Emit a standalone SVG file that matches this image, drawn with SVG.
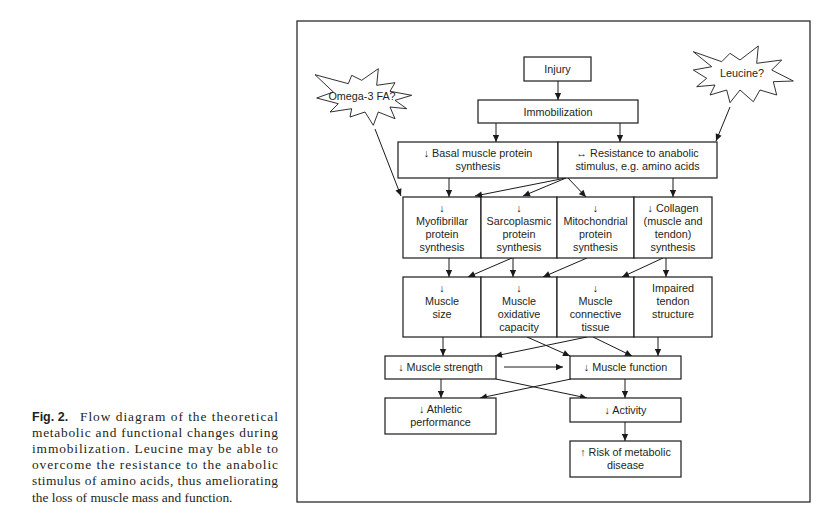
<svg xmlns="http://www.w3.org/2000/svg" width="839" height="529" viewBox="0 0 839 529">
<defs>
<marker id="ah" viewBox="0 0 10 10" refX="10" refY="5" markerWidth="8" markerHeight="7" orient="auto" markerUnits="userSpaceOnUse"><path d="M0,0.5 L10,5 L0,9.5 z" fill="#1a1a1a"/></marker>
<style>
.box{fill:#fff;stroke:#1a1a1a;stroke-width:1.2}
.star{fill:#fff;stroke:#1a1a1a;stroke-width:0.9}
.t{font-family:"Liberation Sans",Arial,sans-serif;font-size:10.8px;fill:#231f20;text-anchor:middle}
.c{stroke:#1a1a1a;stroke-width:1;fill:none;marker-end:url(#ah)}
.cap{font-family:"Liberation Serif","Times New Roman",serif;font-size:13.4px;fill:#231f20}
.capb{font-family:"Liberation Sans",Arial,sans-serif;font-weight:bold;font-size:12.5px;fill:#231f20}
</style>
</defs>
<rect width="839" height="529" fill="#fff"/>
<rect x="297" y="21" width="513" height="481" fill="none" stroke="#1a1a1a" stroke-width="1.2"/>

<g id="connectors">
<line class="c" x1="558" y1="81" x2="558" y2="100"/>
<line class="c" x1="496" y1="123" x2="496" y2="142"/>
<line class="c" x1="620" y1="123" x2="620" y2="142"/>
<line class="c" x1="375" y1="129" x2="401" y2="196"/>
<line class="c" x1="730" y1="107" x2="716" y2="141"/>
<line class="c" x1="449" y1="178" x2="449" y2="197"/>
<line class="c" x1="566" y1="178" x2="475" y2="196"/>
<line class="c" x1="566" y1="178" x2="523" y2="196"/>
<line class="c" x1="568" y1="178" x2="586" y2="197"/>
<line class="c" x1="673" y1="178" x2="673" y2="197"/>
<line class="c" x1="449" y1="258" x2="449" y2="277"/>
<line class="c" x1="512" y1="258" x2="468" y2="277"/>
<line class="c" x1="513" y1="258" x2="513" y2="277"/>
<line class="c" x1="587" y1="258" x2="543" y2="277"/>
<line class="c" x1="663" y1="258" x2="622" y2="277"/>
<line class="c" x1="666" y1="258" x2="666" y2="277"/>
<line class="c" x1="443" y1="337" x2="443" y2="356"/>
<line class="c" x1="527" y1="337" x2="570" y2="356"/>
<line class="c" x1="587" y1="337" x2="495" y2="356"/>
<line class="c" x1="593" y1="337" x2="632" y2="356"/>
<line class="c" x1="658" y1="337" x2="658" y2="356"/>
<line class="c" x1="504" y1="367" x2="563" y2="367"/>
<line class="c" x1="441" y1="379" x2="441" y2="398"/>
<line class="c" x1="496" y1="379" x2="587" y2="398"/>
<line class="c" x1="571" y1="379" x2="480" y2="398"/>
<line class="c" x1="625" y1="379" x2="625" y2="398"/>
<line class="c" x1="625" y1="422" x2="625" y2="441"/>
</g>

<g id="omega">
<polygon class="star" points="315,74.7 348.3,83.7 351.7,75.3 361.7,80.3 378.3,68.7 376.7,85.3 395,82.7 390,91.3 411.7,95.3 395,100.3 406.7,108.7 390,107 395,118.7 378.3,112 373.3,125.3 365,112 350,117 351.7,108.7 330,112 338.3,103.7 316.7,98 333.3,92"/>
<text class="t" x="362" y="99.5">Omega-3 FA?</text>
</g>
<g id="leucine">
<polygon class="star" points="693.3,51.7 721.7,61.7 730,53.3 740,60 758.3,46 756.7,63.3 781.7,60 771.7,70 793.3,81 773.3,81.7 776.7,95 760,90 753.3,101.7 740,90 730,102.7 726.7,90 710,95 715,85 696.7,86.7 706.7,78.3 693.3,70 711.7,66.7"/>
<text class="t" x="742" y="77">Leucine?</text>
</g>

<g id="injury"><rect class="box" x="524" y="57" width="67" height="24"/><text class="t" x="557.5" y="72.5">Injury</text></g>
<g id="immobilization"><rect class="box" x="478" y="100" width="160" height="23"/><text class="t" x="558" y="115.5">Immobilization</text></g>
<g id="basal"><rect class="box" x="398" y="142" width="160" height="36"/><text class="t" x="478" y="157">↓ Basal muscle protein</text><text class="t" x="478" y="170">synthesis</text></g>
<g id="resistance"><rect class="box" x="558" y="142" width="159" height="36"/><text class="t" x="637.5" y="157">↔ Resistance to anabolic</text><text class="t" x="637.5" y="170">stimulus, e.g. amino acids</text></g>

<g id="myofibrillar"><rect class="box" x="403" y="197" width="78" height="61"/><text class="t" x="442" y="212">↓</text><text class="t" x="442" y="225">Myofibrillar</text><text class="t" x="442" y="238">protein</text><text class="t" x="442" y="251">synthesis</text></g>
<g id="sarcoplasmic"><rect class="box" x="481" y="197" width="76" height="61"/><text class="t" x="519" y="212">↓</text><text class="t" x="519" y="225">Sarcoplasmic</text><text class="t" x="519" y="238">protein</text><text class="t" x="519" y="251">synthesis</text></g>
<g id="mitochondrial"><rect class="box" x="557" y="197" width="77" height="61"/><text class="t" x="595.5" y="212">↓</text><text class="t" x="595.5" y="225">Mitochondrial</text><text class="t" x="595.5" y="238">protein</text><text class="t" x="595.5" y="251">synthesis</text></g>
<g id="collagen"><rect class="box" x="634" y="197" width="78" height="61"/><text class="t" x="673" y="212">↓ Collagen</text><text class="t" x="673" y="225">(muscle and</text><text class="t" x="673" y="238">tendon)</text><text class="t" x="673" y="251">synthesis</text></g>

<g id="size"><rect class="box" x="403" y="277" width="78" height="60"/><text class="t" x="442" y="292">↓</text><text class="t" x="442" y="305">Muscle</text><text class="t" x="442" y="318">size</text></g>
<g id="oxidative"><rect class="box" x="481" y="277" width="76" height="60"/><text class="t" x="519" y="292">↓</text><text class="t" x="519" y="305">Muscle</text><text class="t" x="519" y="318">oxidative</text><text class="t" x="519" y="331">capacity</text></g>
<g id="connective"><rect class="box" x="557" y="277" width="77" height="60"/><text class="t" x="595.5" y="292">↓</text><text class="t" x="595.5" y="305">Muscle</text><text class="t" x="595.5" y="318">connective</text><text class="t" x="595.5" y="331">tissue</text></g>
<g id="tendon"><rect class="box" x="634" y="277" width="78" height="60"/><text class="t" x="673" y="292">Impaired</text><text class="t" x="673" y="305">tendon</text><text class="t" x="673" y="318">structure</text></g>

<g id="strength"><rect class="box" x="385" y="356" width="111" height="23"/><text class="t" x="440.5" y="371">↓ Muscle strength</text></g>
<g id="function"><rect class="box" x="570" y="356" width="111" height="23"/><text class="t" x="625.5" y="371">↓ Muscle function</text></g>
<g id="athletic"><rect class="box" x="385" y="398" width="111" height="36"/><text class="t" x="440.5" y="413">↓ Athletic</text><text class="t" x="440.5" y="426">performance</text></g>
<g id="activity"><rect class="box" x="570" y="398" width="111" height="24"/><text class="t" x="625.5" y="413.5">↓ Activity</text></g>
<g id="risk"><rect class="box" x="570" y="441" width="111" height="36"/><text class="t" x="625.5" y="456">↑ Risk of metabolic</text><text class="t" x="625.5" y="469">disease</text></g>

<g id="caption">
<text x="32" y="420.5"><tspan class="capb">Fig. 2.</tspan><tspan class="cap" x="80" y="420.5" textLength="198" lengthAdjust="spacing">Flow diagram of the theoretical</tspan></text>
<text class="cap" x="32" y="436.7" textLength="246" lengthAdjust="spacing">metabolic and functional changes during</text>
<text class="cap" x="32" y="452.9" textLength="246" lengthAdjust="spacing">immobilization. Leucine may be able to</text>
<text class="cap" x="32" y="469.1" textLength="246" lengthAdjust="spacing">overcome the resistance to the anabolic</text>
<text class="cap" x="32" y="485.3" textLength="246" lengthAdjust="spacing">stimulus of amino acids, thus ameliorating</text>
<text class="cap" x="32" y="501.5">the loss of muscle mass and function.</text>
</g>
</svg>
